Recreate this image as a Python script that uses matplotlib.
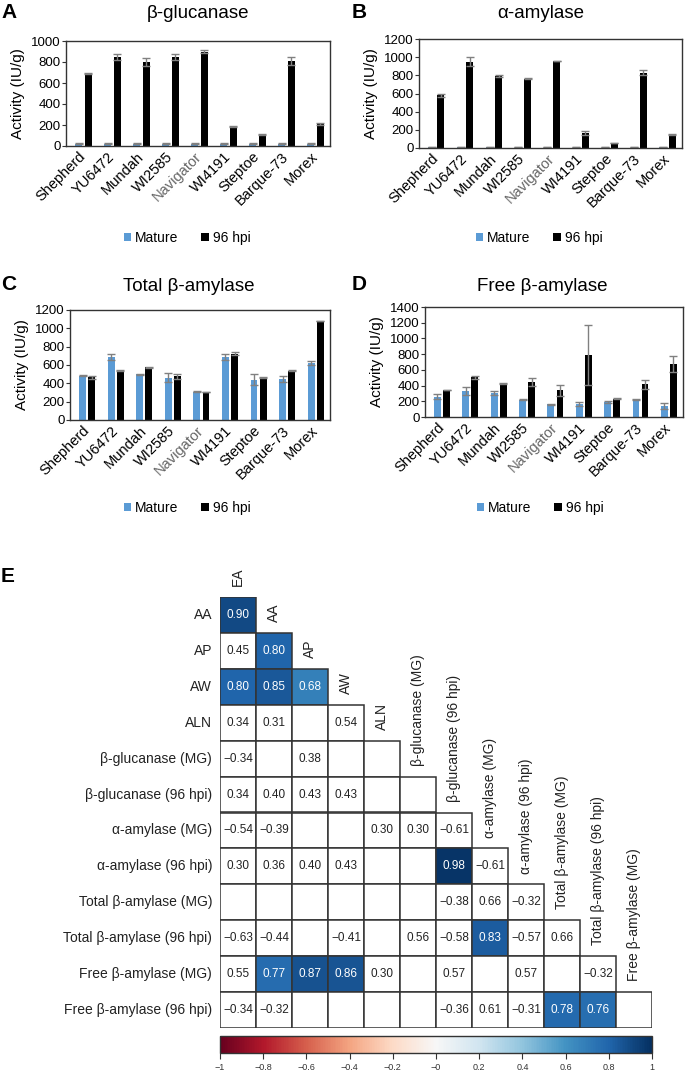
import numpy as np
import matplotlib
matplotlib.use('Agg')
import matplotlib.pyplot as plt
from matplotlib.patches import Rectangle
from matplotlib.colors import Normalize

plt.rcParams['font.family'] = ['Liberation Sans', 'DejaVu Sans']
plt.rcParams['axes.unicode_minus'] = True

# ---- bar panels data (IU/g) ----
cultivars = ['Shepherd', 'YU6472', 'Mundah', 'WI2585', 'Navigator',
             'WI4191', 'Steptoe', 'Barque-73', 'Morex']

glu_mature = [22, 22, 22, 22, 22, 22, 22, 22, 22]
glu_mature_err = [3, 3, 3, 3, 3, 3, 3, 3, 3]
glu_96 = [690, 845, 800, 845, 900, 190, 112, 812, 212]
glu_96_err = [5, 30, 40, 30, 18, 5, 4, 40, 8]

amy_mature = [10, 10, 10, 10, 10, 10, 10, 10, 10]
amy_mature_err = [3, 3, 3, 3, 3, 3, 3, 3, 3]
amy_96 = [580, 950, 795, 762, 958, 165, 55, 830, 145]
amy_96_err = [15, 50, 12, 5, 5, 25, 5, 30, 5]

tot_mature = [485, 690, 500, 460, 310, 690, 440, 450, 620]
tot_mature_err = [5, 35, 5, 50, 5, 35, 60, 35, 25]
tot_96 = [465, 535, 575, 475, 305, 725, 460, 535, 1080]
tot_96_err = [15, 5, 5, 25, 5, 18, 5, 5, 5]

free_mature = [260, 330, 305, 220, 160, 160, 190, 225, 140]
free_mature_err = [35, 50, 25, 5, 5, 25, 10, 5, 40]
free_96 = [345, 505, 425, 445, 340, 785, 235, 415, 675]
free_96_err = [5, 15, 5, 55, 70, 380, 10, 55, 100]

# ---- correlation heatmap data ----
hm_rows = ['AA', 'AP', 'AW', 'ALN', 'β-glucanase (MG)', 'β-glucanase (96 hpi)',
           'α-amylase (MG)', 'α-amylase (96 hpi)', 'Total β-amylase (MG)',
           'Total β-amylase (96 hpi)', 'Free β-amylase (MG)', 'Free β-amylase (96 hpi)']
hm_cols = ['EA', 'AA', 'AP', 'AW', 'ALN', 'β-glucanase (MG)', 'β-glucanase (96 hpi)',
           'α-amylase (MG)', 'α-amylase (96 hpi)', 'Total β-amylase (MG)',
           'Total β-amylase (96 hpi)', 'Free β-amylase (MG)']
nan = np.nan
hm_values = [
    [0.90],
    [0.45, 0.80],
    [0.80, 0.85, 0.68],
    [0.34, 0.31, nan, 0.54],
    [-0.34, nan, 0.38, nan, nan],
    [0.34, 0.40, 0.43, 0.43, nan, nan],
    [-0.54, -0.39, nan, nan, 0.30, 0.30, -0.61],
    [0.30, 0.36, 0.40, 0.43, nan, nan, 0.98, -0.61],
    [nan, nan, nan, nan, nan, nan, -0.38, 0.66, -0.32],
    [-0.63, -0.44, nan, -0.41, nan, 0.56, -0.58, 0.83, -0.57, 0.66],
    [0.55, 0.77, 0.87, 0.86, 0.30, nan, 0.57, nan, 0.57, nan, -0.32],
    [-0.34, -0.32, nan, nan, nan, nan, -0.36, 0.61, -0.31, 0.78, 0.76, nan],
]
# (row, col) cells that are shaded
hm_shaded = [(0, 0), (1, 1), (2, 0), (2, 1), (2, 2), (7, 6), (9, 7),
             (10, 1), (10, 2), (10, 3), (11, 9), (11, 10)]

BLUE = '#5b9bd5'
EDGE = '#333333'

fig = plt.figure(figsize=(6.85, 10.75), dpi=100)
W, H = 685.0, 1075.0


def px_axes(left, top, right, bottom):
    return fig.add_axes([left / W, 1 - bottom / H, (right - left) / W, (bottom - top) / H])


def bar_panel(ax, mature, mature_err, hpi, hpi_err, ymax):
    x = np.arange(len(cultivars))
    ekw = dict(ecolor='#808080', capsize=3, elinewidth=1, capthick=1)
    ax.bar(x - 0.16, mature, 0.24, yerr=mature_err, color=BLUE, error_kw=ekw, label='Mature')
    ax.bar(x + 0.16, hpi, 0.24, yerr=hpi_err, color='black', error_kw=ekw, label='96 hpi')
    ax.set_xlim(-0.6, 8.5)
    ax.set_ylim(0, ymax)
    ax.set_yticks(np.arange(0, ymax + 1, 200))
    ax.set_xticks(x)
    ax.set_xticklabels(cultivars, rotation=45, ha='right', va='center',
                       rotation_mode='anchor', fontsize=10.5)
    for lbl in ax.get_xticklabels():
        if lbl.get_text() == 'Navigator':
            lbl.set_color('#666666')
    ax.tick_params(axis='x', length=0, pad=6)
    ax.tick_params(axis='y', length=3, labelsize=9.5, pad=1, color=EDGE)
    for s in ax.spines.values():
        s.set_color(EDGE)
        s.set_linewidth(1)
    ax.set_ylabel('Activity (IU/g)', fontsize=11, labelpad=4)


def panel_legend(ax, cx, cy):
    ax.legend(loc='center', bbox_to_anchor=(cx / W, 1 - cy / H), bbox_transform=fig.transFigure,
              ncol=2, frameon=False, fontsize=10, handlelength=0.55, handleheight=0.55,
              handletextpad=0.3, columnspacing=1.6)


axA = px_axes(66, 41, 330, 146)
bar_panel(axA, glu_mature, glu_mature_err, glu_96, glu_96_err, 1000)
panel_legend(axA, 187, 238)

axB = px_axes(419, 39, 682, 148)
bar_panel(axB, amy_mature, amy_mature_err, amy_96, amy_96_err, 1200)
panel_legend(axB, 539, 238)

axC = px_axes(70, 310, 330, 420)
bar_panel(axC, tot_mature, tot_mature_err, tot_96, tot_96_err, 1200)
panel_legend(axC, 187, 508)

axD = px_axes(425, 307, 683, 417)
bar_panel(axD, free_mature, free_mature_err, free_96, free_96_err, 1400)
panel_legend(axD, 540, 508)

# titles and panel letters
for txt, x, y in [('β-glucanase', 198, 13), ('α-amylase', 541, 13),
                  ('Total β-amylase', 189, 287), ('Free β-amylase', 542, 287)]:
    fig.text(x / W, 1 - y / H, txt, ha='center', va='center', fontsize=13.5)
for txt, x, y in [('A', 1, 13), ('B', 352, 13), ('C', 1, 285), ('D', 352, 285), ('E', 1, 576)]:
    fig.text(x / W, 1 - y / H, txt, ha='left', va='center', fontsize=15, fontweight='bold')

# ---- heatmap ----
axE = px_axes(220, 597, 652, 1028)
cmap = plt.get_cmap('RdBu')
norm = Normalize(vmin=-1, vmax=1)
n = len(hm_rows)
for i, row in enumerate(hm_values):
    for j, v in enumerate(row):
        shaded = (i, j) in hm_shaded
        fc = cmap(norm(v)) if shaded else 'white'
        axE.add_patch(Rectangle((j, i), 1, 1, facecolor=fc, edgecolor=EDGE, linewidth=1.1))
        if not np.isnan(v):
            axE.text(j + 0.5, i + 0.5, f'{v:.2f}'.replace('-', '\u2212'), ha='center', va='center',
                     fontsize=8.5, color='white' if shaded else '#222222')
axE.set_xlim(0, n)
axE.set_ylim(n, 0)
axE.axis('off')
for i, lbl in enumerate(hm_rows):
    axE.text(-0.22, i + 0.5, lbl, ha='right', va='center', fontsize=10, color='#222222')
for j, lbl in enumerate(hm_cols):
    axE.text(j + 0.5, j - 0.3, lbl, ha='center', va='bottom', rotation=90,
             fontsize=10, color='#222222')

cax = px_axes(220, 1036, 652, 1053)
sm = plt.cm.ScalarMappable(norm=norm, cmap=cmap)
cb = fig.colorbar(sm, cax=cax, orientation='horizontal')
cb_ticks = np.round(np.arange(-1, 1.01, 0.2), 1)
cb.set_ticks(cb_ticks)
cb.set_ticklabels([f'{t:g}'.replace('-', '\u2212') for t in cb_ticks])
cb.outline.set_edgecolor(EDGE)
cb.outline.set_linewidth(1)
cax.tick_params(labelsize=6.5, length=4, pad=3, color=EDGE, labelcolor='#333333')

fig.savefig('out.png', dpi=100)
